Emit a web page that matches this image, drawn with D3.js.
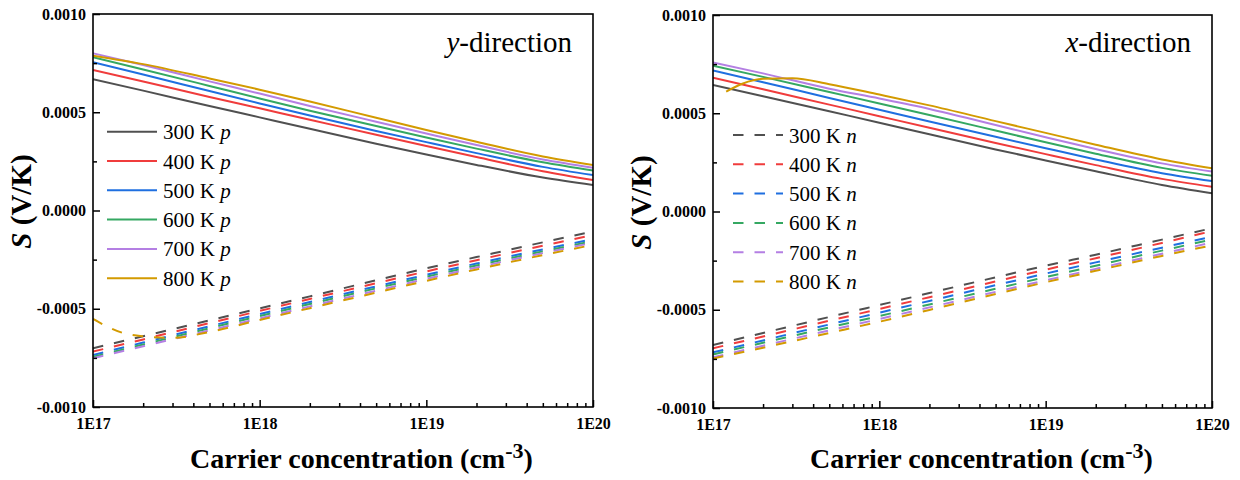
<!DOCTYPE html>
<html><head><meta charset="utf-8">
<script src="https://cdn.jsdelivr.net/npm/d3@7"></script>
<style>body{margin:0;background:#fff} svg{display:block}</style>
</head><body>
<svg id="chart" width="1240" height="480"></svg>
<script>
// ---------- data ----------
const concentration = [1e17, 2e17, 5e17, 1e18, 2e18, 5e18, 1e19, 2e19, 5e19, 1e20];
const concentrationFine = [1e17, 1.2e17, 1.5e17, 2e17, 3e17, 5e17, 1e18, 2e18, 5e18, 1e19, 2e19, 5e19, 1e20];
const temperatures = ["300 K", "400 K", "500 K", "600 K", "700 K", "800 K"];
const seriesColors = ["#505050", "#f03c3c", "#1f6fe0", "#35a862", "#b47fe3", "#d39a00"];
const xTickValues = [1e17, 1e18, 1e19, 1e20];
const xTickLabels = ["1E17", "1E18", "1E19", "1E20"];
const yTickValues = [-0.001, -0.0005, 0, 0.0005, 0.001];
const yTickLabels = ["-0.0010", "-0.0005", "0.0000", "0.0005", "0.0010"];

// y-direction, p-type (300..800 K) on `concentration`
const yDirP = [
  [0.000668,0.000610,0.000532,0.000474,0.000416,0.000340,0.000285,0.000232,0.000168,0.000130],
  [0.000715,0.000657,0.000578,0.000520,0.000462,0.000385,0.000328,0.000272,0.000200,0.000155],
  [0.000754,0.000692,0.000608,0.000545,0.000483,0.000405,0.000348,0.000292,0.000222,0.000180],
  [0.000780,0.000718,0.000634,0.000570,0.000508,0.000430,0.000372,0.000315,0.000245,0.000203],
  [0.000800,0.000740,0.000657,0.000595,0.000532,0.000452,0.000392,0.000333,0.000260,0.000218],
  [0.000788,0.000745,0.000672,0.000615,0.000555,0.000472,0.000410,0.000350,0.000275,0.000232]
];
// y-direction, n-type (300..700 K) on `concentration`
const yDirN = [
  [-0.000701,-0.000640,-0.000559,-0.000498,-0.000437,-0.000355,-0.000294,-0.000237,-0.000162,-0.000107],
  [-0.000718,-0.000656,-0.000573,-0.000511,-0.000450,-0.000370,-0.000310,-0.000253,-0.000179,-0.000125],
  [-0.000735,-0.000672,-0.000589,-0.000527,-0.000466,-0.000386,-0.000327,-0.000270,-0.000198,-0.000146],
  [-0.000745,-0.000682,-0.000599,-0.000537,-0.000476,-0.000396,-0.000337,-0.000280,-0.000208,-0.000156],
  [-0.000752,-0.000691,-0.000610,-0.000549,-0.000488,-0.000408,-0.000348,-0.000290,-0.000217,-0.000164]
];
// y-direction, n-type 800 K on `concentrationFine`
const yDirN800 = [-0.000552,-0.000588,-0.000622,-0.000640,-0.000648,-0.000618,-0.000557,-0.000497,-0.000418,-0.000358,-0.000300,-0.000227,-0.000175];

// x-direction, p-type (300..700 K) on `concentration`
const xDirP = [
  [0.000644,0.000587,0.000510,0.000452,0.000393,0.000316,0.000260,0.000205,0.000135,0.000093],
  [0.000681,0.000622,0.000544,0.000485,0.000426,0.000349,0.000292,0.000236,0.000166,0.000126],
  [0.000718,0.000658,0.000578,0.000518,0.000458,0.000380,0.000322,0.000265,0.000195,0.000155],
  [0.000742,0.000685,0.000608,0.000550,0.000491,0.000412,0.000352,0.000294,0.000222,0.000182],
  [0.000759,0.000703,0.000625,0.000575,0.000522,0.000440,0.000378,0.000318,0.000245,0.000203]
];
// x-direction, p-type 800 K on `concentrationFine`
const xDirP800 = [null,0.000610,0.000650,0.000675,0.000678,0.000648,0.000595,0.000540,0.000460,0.000400,0.000340,0.000265,0.000220];
// x-direction, n-type (300..800 K) on `concentration`
const xDirN = [
  [-0.000679,-0.000618,-0.000537,-0.000476,-0.000415,-0.000335,-0.000276,-0.000220,-0.000143,-0.000085],
  [-0.000696,-0.000636,-0.000556,-0.000496,-0.000436,-0.000356,-0.000296,-0.000238,-0.000160,-0.000100],
  [-0.000717,-0.000656,-0.000575,-0.000515,-0.000455,-0.000375,-0.000316,-0.000259,-0.000184,-0.000128],
  [-0.000727,-0.000668,-0.000590,-0.000532,-0.000473,-0.000393,-0.000334,-0.000276,-0.000199,-0.000142],
  [-0.000742,-0.000683,-0.000605,-0.000547,-0.000488,-0.000409,-0.000350,-0.000292,-0.000215,-0.000158],
  [-0.000748,-0.000693,-0.000618,-0.000561,-0.000501,-0.000420,-0.000360,-0.000302,-0.000226,-0.000172]
];

// ---------- drawing ----------
const FONT = "'Liberation Serif','Times New Roman',Times,serif";
const DASH = "10.5,11";
const svg = d3.select("#chart");

function zip(xs, ys) { return xs.map((c, i) => [c, ys[i]]); }

function drawPanel(p) {
  const x = d3.scaleLog().domain([1e17, 1e20]).range([p.left, p.left + p.width]);
  const y = d3.scaleLinear().domain([-0.001, 0.001]).range([p.top + p.height, p.top]);
  const g = svg.append("g");

  const clipId = "clip-" + p.id;
  svg.append("clipPath").attr("id", clipId).append("rect")
    .attr("x", p.left).attr("y", p.top).attr("width", p.width).attr("height", p.height);

  const line = d3.line().defined(d => d[1] != null)
    .x(d => x(d[0])).y(d => y(d[1])).curve(d3.curveMonotoneX);

  const lines = g.append("g").attr("clip-path", `url(#${clipId})`);
  p.series.forEach(s => {
    lines.append("path").attr("d", line(s.points))
      .attr("fill", "none").attr("stroke", seriesColors[s.c])
      .attr("stroke-width", 2)
      .attr("stroke-dasharray", s.dashed ? DASH : null);
  });

  // axes
  const tickStyle = sel => {
    sel.select(".domain").remove();
    sel.selectAll("line").attr("stroke", "#000").attr("stroke-width", 1.5);
    sel.selectAll("text").attr("font-family", FONT).attr("font-weight", "bold")
      .attr("font-size", 16).attr("fill", "#000");
  };
  const minorX = [];
  for (let e = 17; e < 20; e++) for (let m = 2; m <= 9; m++) minorX.push(m * Math.pow(10, e));
  g.append("g").attr("transform", `translate(0,${p.top + p.height})`)
    .call(d3.axisBottom(x).tickValues(minorX).tickSize(-4).tickFormat(""))
    .call(tickStyle);
  g.append("g").attr("transform", `translate(0,${p.top + p.height})`)
    .call(d3.axisBottom(x).tickValues(xTickValues).tickSize(-7).tickPadding(11)
      .tickFormat((d, i) => xTickLabels[i]))
    .call(tickStyle);
  g.append("g").attr("transform", `translate(${p.left},0)`)
    .call(d3.axisLeft(y).tickValues([-0.00075, -0.00025, 0.00025, 0.00075]).tickSize(-4).tickFormat(""))
    .call(tickStyle);
  g.append("g").attr("transform", `translate(${p.left},0)`)
    .call(d3.axisLeft(y).tickValues(yTickValues).tickSize(-7).tickPadding(7)
      .tickFormat((d, i) => yTickLabels[i]))
    .call(tickStyle);

  g.append("rect").attr("x", p.left).attr("y", p.top)
    .attr("width", p.width).attr("height", p.height)
    .attr("fill", "none").attr("stroke", "#000").attr("stroke-width", 1.6);

  // y label
  const yl = g.append("text")
    .attr("transform", `translate(${p.left - 62},${p.top + p.height / 2 - 9}) rotate(-90)`)
    .attr("text-anchor", "middle").attr("font-family", FONT)
    .attr("font-weight", "bold").attr("font-size", 29);
  yl.append("tspan").attr("font-style", "italic").text("S");
  yl.append("tspan").text(" (V/K)");

  // x label
  const xl = g.append("text").attr("x", p.left + 97).attr("y", 468)
    .attr("font-family", FONT).attr("font-weight", "bold").attr("font-size", 28);
  xl.append("tspan").text("Carrier concentration (cm");
  xl.append("tspan").attr("font-size", 22).attr("dy", -10).text("-3");
  xl.append("tspan").attr("dy", 10).text(")");

  // direction label
  const dl = g.append("text").attr("x", p.left + p.width - 21).attr("y", 52)
    .attr("text-anchor", "end").attr("font-family", FONT).attr("font-size", 29);
  dl.append("tspan").attr("font-style", "italic").text(p.dirLetter);
  dl.append("tspan").text("-direction");

  // legend
  const lg = g.append("g");
  p.legend.forEach((item, i) => {
    const yy = p.legendY + i * 29.3;
    lg.append("line").attr("x1", p.left + p.legendDX).attr("x2", p.left + p.legendDX + 50)
      .attr("y1", yy).attr("y2", yy)
      .attr("stroke", seriesColors[i]).attr("stroke-width", 2)
      .attr("stroke-dasharray", item.dashed ? DASH : null);
    const t = lg.append("text").attr("x", p.left + p.legendDX + 56).attr("y", yy + 7.5)
      .attr("font-family", FONT).attr("font-size", 21).attr("fill", "#000");
    t.append("tspan").text(temperatures[i] + " ");
    t.append("tspan").attr("font-style", "italic").text(item.type);
  });
}

// left panel: y-direction
const leftSeries = [];
yDirP.forEach((vals, i) => leftSeries.push({ points: zip(concentration, vals), c: i, dashed: false }));
yDirN.forEach((vals, i) => leftSeries.push({ points: zip(concentration, vals), c: i, dashed: true }));
leftSeries.push({ points: zip(concentrationFine, yDirN800), c: 5, dashed: true });
drawPanel({
  id: "left", left: 93, top: 14, width: 500, height: 393, dirLetter: "y",
  series: leftSeries, legendY: 131.7, legendDX: 14,
  legend: temperatures.map(() => ({ type: "p", dashed: false }))
});

// right panel: x-direction
const rightSeries = [];
xDirP.forEach((vals, i) => rightSeries.push({ points: zip(concentration, vals), c: i, dashed: false }));
rightSeries.push({ points: zip(concentrationFine, xDirP800), c: 5, dashed: false });
xDirN.forEach((vals, i) => rightSeries.push({ points: zip(concentration, vals), c: i, dashed: true }));
drawPanel({
  id: "right", left: 713, top: 15, width: 499, height: 393, dirLetter: "x",
  series: rightSeries, legendY: 135, legendDX: 20,
  legend: temperatures.map(() => ({ type: "n", dashed: true }))
});
</script></body></html>
